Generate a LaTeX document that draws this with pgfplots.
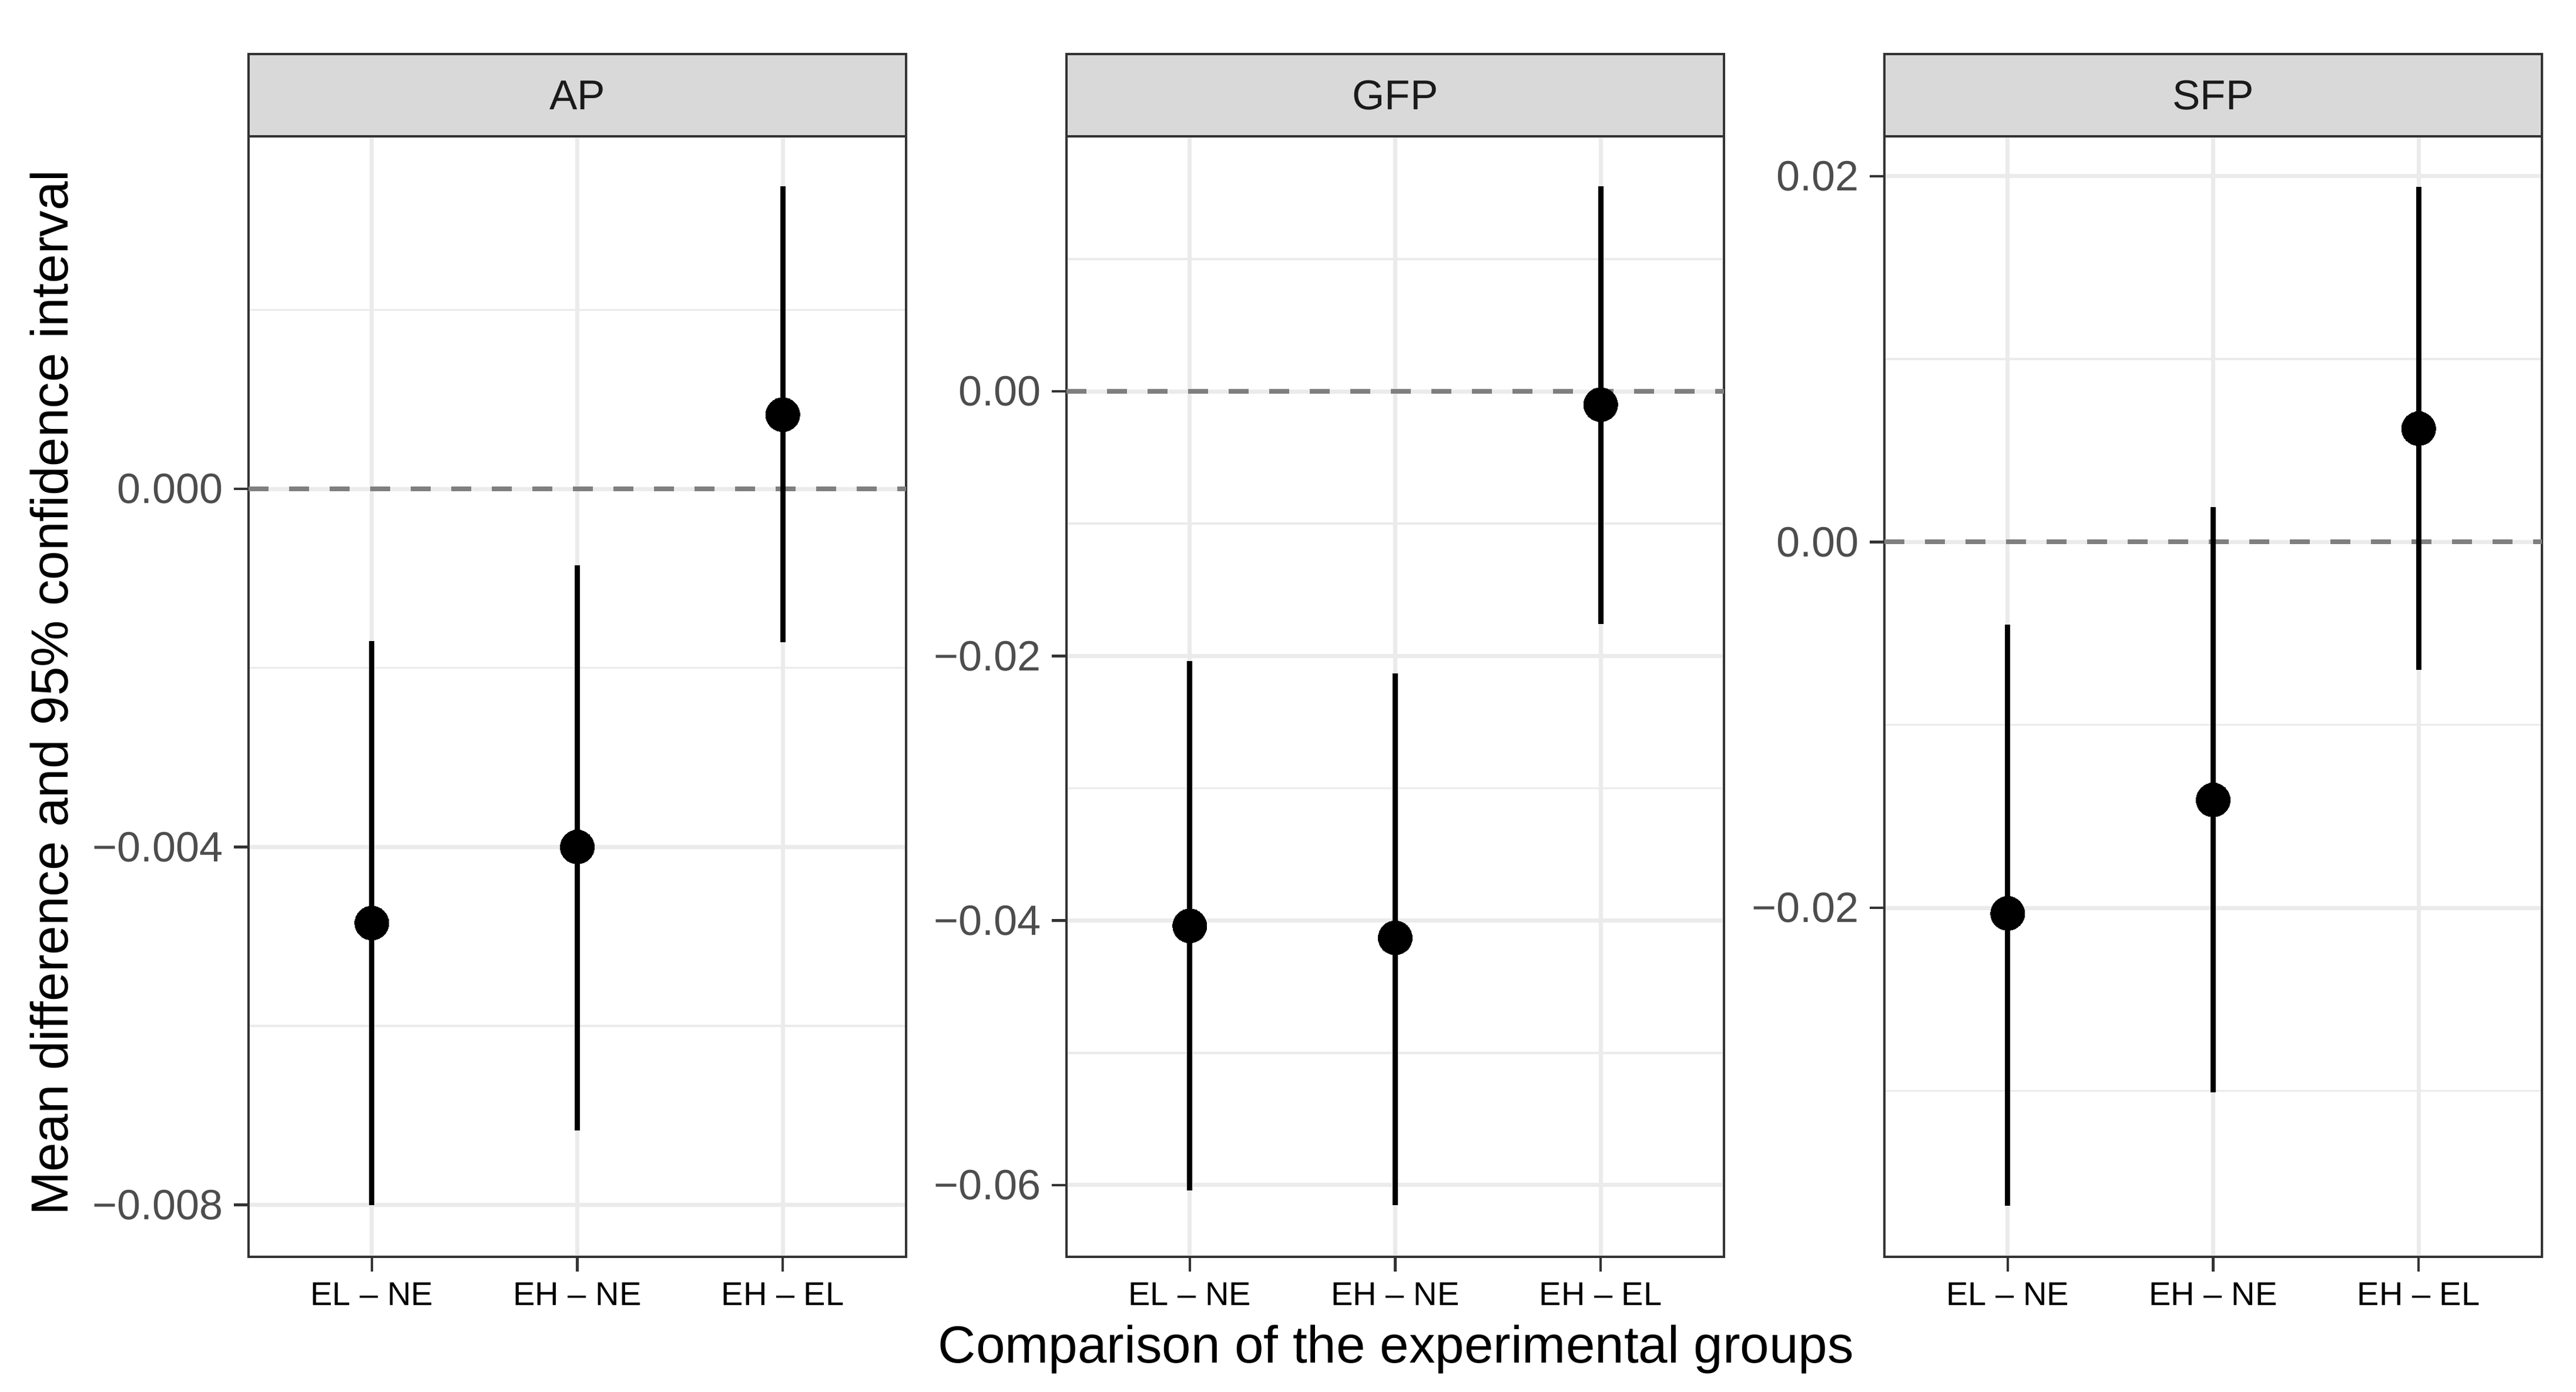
\documentclass[border=0pt]{standalone}
\usepackage{fontspec}
\setmainfont{Liberation Sans}
\usepackage{pgfplots}
\usepackage{pgfplotstable}
\pgfplotsset{compat=1.18}

\definecolor{grey10}{HTML}{1A1A1A}
\definecolor{grey20}{HTML}{333333}
\definecolor{grey30}{HTML}{4D4D4D}
\definecolor{grey50}{HTML}{7F7F7F}
\definecolor{grey85}{HTML}{D9D9D9}
\definecolor{grey92}{HTML}{EBEBEB}

\newcommand\fs[1]{\fontsize{#1}{#1}\selectfont}

% mean difference with lower and upper 95% limits
\pgfplotstableread{
x y lo hi
1 -0.00485 -0.00800 -0.00170
2 -0.00400 -0.00717 -0.00085
3 0.00083 -0.00171 0.00338
}\apdata
\pgfplotstableread{
x y lo hi
1 -0.0404 -0.0604 -0.0204
2 -0.0413 -0.0615 -0.0213
3 -0.0010 -0.0176 0.0155
}\gfpdata
\pgfplotstableread{
x y lo hi
1 -0.0203 -0.0363 -0.0045
2 -0.0141 -0.0301 0.0019
3 0.0062 -0.0070 0.0194
}\sfpdata

\pgfplotsset{
  facet/.style={
    scale only axis, width=111.9bp, height=190.7bp, anchor=south west,
    xmin=0.4, xmax=3.6, xtick={1,2,3},
    xticklabels={EL – NE, EH – NE, EH – EL},
    scaled y ticks=false,
    tick pos=left, tick align=outside,
    major tick length=2.5bp, minor tick length=0pt,
    axis line style={draw=grey20, line width=0.45bp},
    every tick/.style={draw=grey20, line width=0.45bp},
    grid=both,
    major grid style={draw=grey92, line width=0.7bp},
    minor grid style={draw=grey92, line width=0.35bp},
    xticklabel style={font=\fs{5.6bp}, text=black, inner sep=0pt},
    yticklabel style={font=\fs{7.2bp}, text=grey30, inner sep=0pt},
    xticklabel shift=1.7bp, yticklabel shift=1.6bp,
    clip=false,
  },
  zero/.style={grey50, line width=0.8bp, dash pattern=on 3.4bp off 3.5bp, forget plot},
  ci/.style={only marks, mark=*, mark size=2.9bp,
    mark options={fill=black, draw=black, line width=0pt},
    error bars/.cd, y dir=both, y explicit, error mark=none,
    error bar style={line width=0.9bp, black}},
}
\newcommand\strip[1]{%
  \draw[fill=grey85, draw=grey20, line width=0.45bp]
    (rel axis cs:0,1) rectangle ([yshift=14bp]rel axis cs:1,1);
  \node[font=\fs{7.1bp}, text=grey10] at ([yshift=7bp]rel axis cs:0.5,1) {#1};}

\begin{document}
\begin{tikzpicture}
\useasboundingbox (0,0) rectangle (438.4bp,236.9bp);

\begin{axis}[facet, at={(42.3bp,23bp)},
  ymin=-0.00858, ymax=0.00394,
  ytick={-0.008,-0.004,0}, yticklabels={−0.008, −0.004, 0.000},
  minor ytick={-0.006,-0.002,0.002}]
  \addplot[zero] coordinates {(0.4,0) (3.6,0)};
  \addplot[ci] table[x=x, y=y,
    y error plus expr=\thisrow{hi}-\thisrow{y},
    y error minus expr=\thisrow{y}-\thisrow{lo}] {\apdata};
  \strip{AP}
\end{axis}

\begin{axis}[facet, at={(181.5bp,23bp)},
  ymin=-0.06542, ymax=0.01928,
  ytick={-0.06,-0.04,-0.02,0}, yticklabels={−0.06, −0.04, −0.02, 0.00},
  minor ytick={-0.05,-0.03,-0.01,0.01}]
  \addplot[zero] coordinates {(0.4,0) (3.6,0)};
  \addplot[ci] table[x=x, y=y,
    y error plus expr=\thisrow{hi}-\thisrow{y},
    y error minus expr=\thisrow{y}-\thisrow{lo}] {\gfpdata};
  \strip{GFP}
\end{axis}

\begin{axis}[facet, at={(320.7bp,23bp)},
  ymin=-0.03908, ymax=0.02218,
  ytick={-0.02,0,0.02}, yticklabels={−0.02, 0.00, 0.02},
  minor ytick={-0.03,-0.01,0.01}]
  \addplot[zero] coordinates {(0.4,0) (3.6,0)};
  \addplot[ci] table[x=x, y=y,
    y error plus expr=\thisrow{hi}-\thisrow{y},
    y error minus expr=\thisrow{y}-\thisrow{lo}] {\sfpdata};
  \strip{SFP}
\end{axis}

\node[rotate=90, anchor=base, font=\fs{8.9bp}] at (11.5bp,119bp)
  {Mean difference and 95\% confidence interval};
\node[anchor=base, font=\fs{8.9bp}] at (237.6bp,5bp)
  {Comparison of the experimental groups};
\end{tikzpicture}
\end{document}
